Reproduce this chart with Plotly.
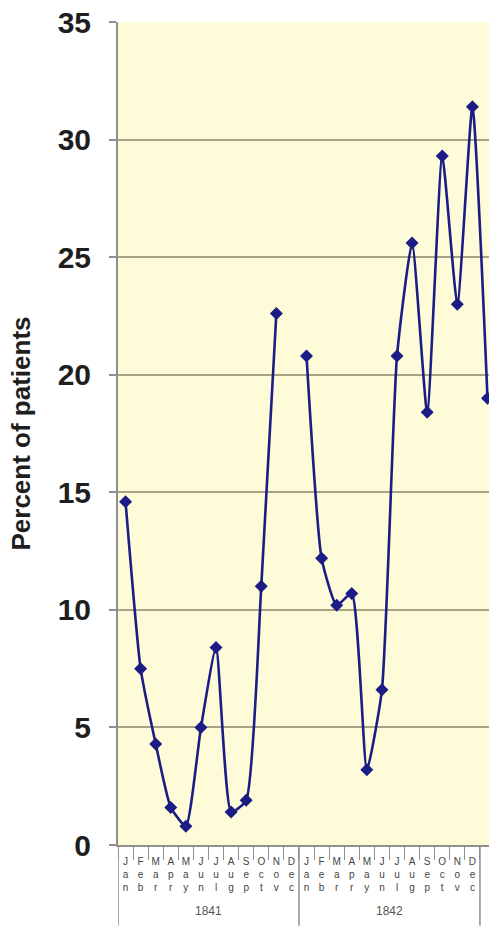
import plotly.graph_objects as go

# Monthly share of patients, 1841-1843 (Dec 1841 not recorded)
years = ["1841", "1842", "1843"]
months = ["Jan", "Feb", "Mar", "Apr", "May", "Jun",
          "Jul", "Aug", "Sep", "Oct", "Nov", "Dec"]
pct_1841 = [14.6, 7.5, 4.3, 1.6, 0.8, 5.0, 8.4, 1.4, 1.9, 11.0, 22.6, None]
pct_1842 = [20.8, 12.2, 10.2, 10.7, 3.2, 6.6, 20.8, 25.6, 18.4, 29.3, 23.0, 31.4]
pct_1843 = [19.0, None, None, None, None, None, None, None, None, None, None, None]
y_ticks = [0, 5, 10, 15, 20, 25, 30, 35]

n_m = len(months)
values = pct_1841 + pct_1842 + pct_1843
idx = list(range(len(values)))

# stacked month abbreviations under each monthly slot
month_labels = ["<br>".join(m) for m in months] * len(years)
slot_edges = [i - 0.5 for i in range(len(values) + 1)]
year_edges = [g * n_m - 0.5 for g in range(len(years) + 1)]
year_centers = [g * n_m + (n_m - 1) / 2 for g in range(len(years))]

navy = "#1c1c86"
axis_grey = "#8f8f8f"

fig = go.Figure(
    go.Scatter(
        x=idx,
        y=values,
        mode="lines+markers",
        line=dict(color=navy, width=2.6, shape="spline", smoothing=0.5),
        marker=dict(symbol="diamond", size=10, color=navy),
        connectgaps=False,
        cliponaxis=True,
    )
)

# year group dividers running down through the label rows
for e in year_edges:
    fig.add_shape(
        type="line", xref="x", yref="paper",
        x0=e, x1=e, y0=0, y1=-0.098,
        line=dict(color=axis_grey, width=1.5),
    )

for c, yr in zip(year_centers, years):
    fig.add_annotation(
        x=c, y=-0.08, xref="x", yref="paper",
        text=yr, showarrow=False,
        font=dict(size=12, color="#555555"),
        yanchor="middle",
    )

fig.update_layout(
    width=489,
    height=930,
    margin=dict(l=118, r=0, t=22, b=85),
    paper_bgcolor="white",
    plot_bgcolor="#fefbd8",
    showlegend=False,
    font=dict(family="Liberation Sans, Arial, sans-serif"),
)

fig.update_yaxes(
    range=[0, 35],
    tickvals=y_ticks,
    ticktext=[str(v) for v in y_ticks],
    tickfont=dict(size=30, color="#1e1e1e", weight="bold"),
    ticks="outside",
    ticklen=7,
    tickcolor=axis_grey,
    tickwidth=1.5,
    ticklabelstandoff=12,
    showgrid=True,
    gridcolor="#a8a384",
    gridwidth=2,
    showline=True,
    linecolor=axis_grey,
    linewidth=2,
    zeroline=False,
    automargin=False,
    title=dict(
        text="Percent of patients",
        font=dict(size=26, color="#1e1e1e", weight="bold"),
        standoff=20,
    ),
)

fig.update_xaxes(
    type="linear",
    range=[-0.5, 24.1],
    tickvals=idx,
    ticktext=month_labels,
    tickfont=dict(size=10, color="#444444"),
    tickangle=0,
    ticks="",
    minor=dict(
        tickvals=slot_edges,
        ticks="outside",
        ticklen=13,
        tickcolor=axis_grey,
        tickwidth=1.2,
        showgrid=False,
    ),
    ticklabelstandoff=6,
    showline=True,
    linecolor=axis_grey,
    linewidth=2,
    showgrid=False,
    zeroline=False,
    automargin=False,
)

fig.write_html("out.html")
